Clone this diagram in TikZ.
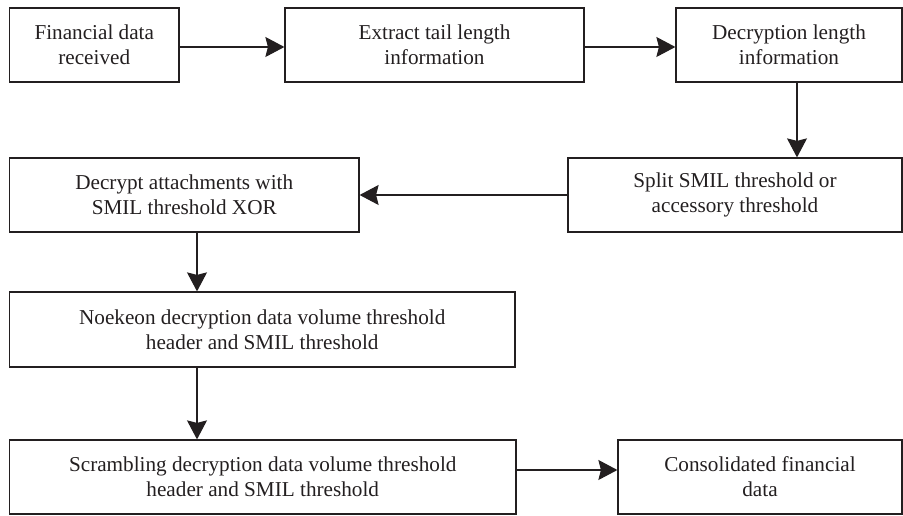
\documentclass[tikz,border=0pt]{standalone}
\usepackage{fontspec}
\setmainfont{Liberation Serif}
\usetikzlibrary{arrows.meta}
\definecolor{ink}{HTML}{231F20}
\begin{document}
\begin{tikzpicture}[x=1pt,y=1pt,
  box/.style={draw=ink, line width=1.2pt, rectangle, inner sep=0pt, align=center,
    text=ink, font=\fontsize{21.2}{25}\selectfont},
  arr/.style={draw=ink, line width=1.2pt, -{Stealth[length=19pt,width=20pt,inset=2.5pt]}}]
\useasboundingbox (0,0) rectangle (903,516);
% helper: box from image coords (x1,y1)-(x2,y2), y measured from top
\newcommand{\mybox}[6]{%
  \node[box, minimum width={#4-#2}, minimum height={#5-#3}] (#1)
    at ({(#2+#4)/2},{516-(#3+#5)/2}) {#6};}
\mybox{b1}{9.5}{8}{179}{82}{Financial data\\received}
\mybox{b2}{285}{8}{584}{82}{Extract tail length\\information}
\mybox{b3}{676}{8}{902}{82}{Decryption length\\information}
\mybox{b4}{568}{158}{902}{232}{Split SMIL threshold or\\accessory threshold}
\mybox{b5}{9.5}{158}{359}{232}{Decrypt attachments with\\SMIL threshold XOR}
\mybox{b6}{9.5}{292}{515}{367}{Noekeon decryption data volume threshold\\header and SMIL threshold}
\mybox{b7}{9.5}{440}{516}{514}{Scrambling decryption data volume threshold\\header and SMIL threshold}
\mybox{b8}{618}{440}{902}{514}{Consolidated financial\\data}
\coordinate (c1) at (797,0);
\coordinate (c2) at (197,0);
\coordinate (r1) at (0,469);
\coordinate (r4) at (0,46);
\draw[arr] (b1.east |- r1) -- (b2.west |- r1);
\draw[arr] (b2.east |- r1) -- (b3.west |- r1);
\draw[arr] (b3.south -| c1) -- (b4.north -| c1);
\draw[arr] (b4) -- (b5);
\draw[arr] (b5.south -| c2) -- (b6.north -| c2);
\draw[arr] (b6.south -| c2) -- (b7.north -| c2);
\draw[arr] (b7.east |- r4) -- (b8.west |- r4);
\end{tikzpicture}
\end{document}
